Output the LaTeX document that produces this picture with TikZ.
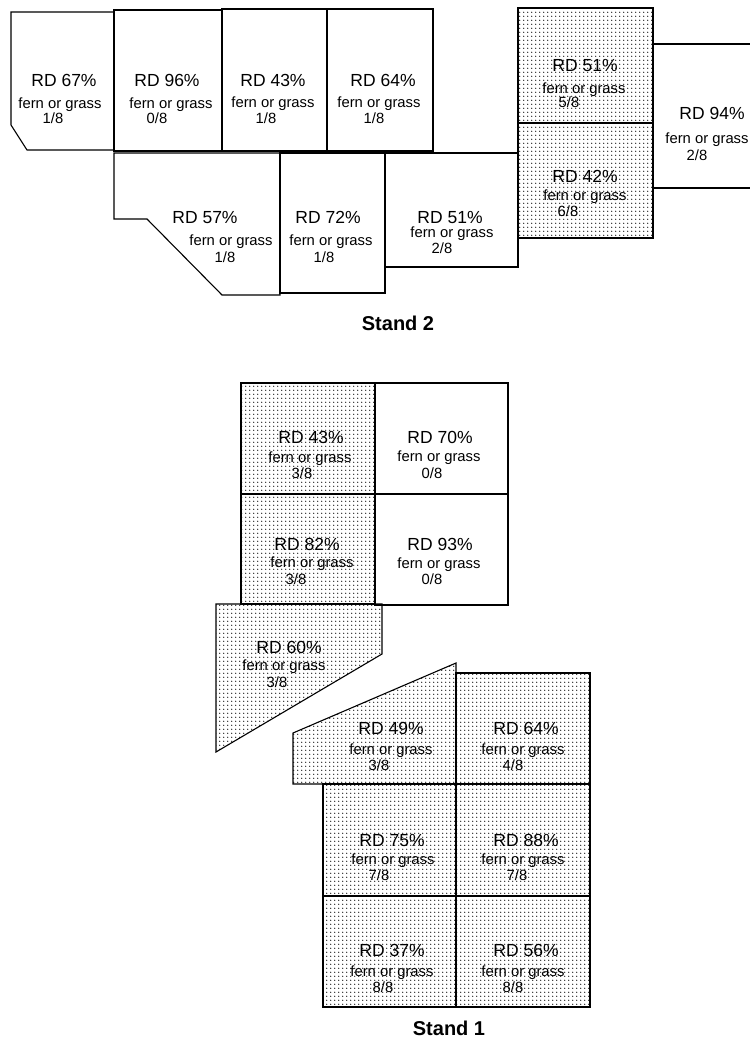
\documentclass[tikz,border=0pt]{standalone}
\usepackage{fontspec}
\setmainfont{Liberation Sans}
\usetikzlibrary{patterns.meta}
\tikzdeclarepattern{
  name=sdots,
  type=uncolored,
  bounding box={(0pt,0pt) and (3.7pt,3.7pt)},
  tile size={(3.7pt,3.7pt)},
  code={\fill (1.85pt,1.85pt) circle (0.7pt);}
}
\newcommand\plotlabel[6]{%
  \node[rd] (#1r) at (#2) {RD #3\%};
  \node[fg] (#1f) at (#4) {fern or grass};
  \node[fg] (#1n) at (#5) {#6};}
\begin{document}
\begin{tikzpicture}[x=1pt,y=-1pt,
  wall/.style={line width=1.1pt, line join=miter},
  dotcell/.style={wall, pattern=sdots, pattern color=black},
  rd/.style={font=\fontsize{17.5}{17.5}\selectfont, inner sep=0pt, text height=12.5pt, text depth=0pt},
  fg/.style={font=\fontsize{14.8}{14.8}\selectfont, inner sep=0pt, text height=10.5pt, text depth=0pt},
  title/.style={font=\fontsize{20}{20}\selectfont\bfseries, inner sep=0pt, text height=14.3pt, text depth=0pt}]
\useasboundingbox (0,0) rectangle (750,1043);

% ---------------- Stand 2 ----------------
\draw[wall] (11,12) -- (114,12) -- (114,150) -- (27,150) -- (11,125) -- cycle;
\draw[wall] (114,10) rectangle (222,151);
\draw[wall] (222,9) rectangle (327,151);
\draw[wall] (327,9) rectangle (433,151);
\draw[wall] (114,153) -- (280,153) -- (280,295) -- (222,295) -- (147,219) -- (114,219) -- cycle;
\draw[wall] (280,153) rectangle (385,293);
\draw[wall] (385,153) rectangle (518,267);
\draw[dotcell] (518,8) rectangle (653,123);
\draw[dotcell] (518,123) rectangle (653,238);
\draw[wall] (653,44) -- (750,44);
\draw[wall] (653,188) -- (750,188);

\plotlabel{a}{64,80}{67}{60,103}{53,118}{1/8}
\plotlabel{b}{167,80}{96}{171,103}{157,118}{0/8}
\plotlabel{c}{273,80}{43}{273,102}{266,118}{1/8}
\plotlabel{d}{383,80}{64}{379,102}{374,118}{1/8}
\plotlabel{e}{205,217}{57}{231,240}{225,257}{1/8}
\plotlabel{f}{328,217}{72}{331,240}{324,257}{1/8}
\plotlabel{g}{450,217}{51}{452,232}{442,248}{2/8}
\plotlabel{h}{585,65}{51}{584,88}{569,102}{5/8}
\plotlabel{i}{585,176}{42}{585,195}{568,211}{6/8}
\plotlabel{j}{712,113}{94}{707,138}{697,155}{2/8}

\node[title] (stand2) at (398,323) {Stand 2};

% ---------------- Stand 1 ----------------
\draw[dotcell] (241,383) rectangle (375,494);
\draw[dotcell] (241,494) rectangle (375,604);
\draw[wall] (375,383) rectangle (508,494);
\draw[wall] (375,494) rectangle (508,605);
\draw[dotcell] (216,604) -- (382,604) -- (382,654) -- (216,752) -- cycle;
\draw[dotcell] (293,733) -- (456,663) -- (456,784) -- (293,784) -- cycle;
\draw[dotcell] (456,673) rectangle (590,784);
\draw[dotcell] (323,784) rectangle (456,896);
\draw[dotcell] (456,784) rectangle (590,896);
\draw[dotcell] (323,896) rectangle (456,1007);
\draw[dotcell] (456,896) rectangle (590,1007);

\plotlabel{k}{311,437}{43}{310,457}{302,473}{3/8}
\plotlabel{l}{440,437}{70}{439,456}{432,473}{0/8}
\plotlabel{m}{307,544}{82}{312,562}{296,579}{3/8}
\plotlabel{n}{440,544}{93}{439,563}{432,579}{0/8}
\plotlabel{o}{289,647}{60}{284,665}{277,682}{3/8}
\plotlabel{p}{391,728}{49}{391,749}{379,765}{3/8}
\plotlabel{q}{526,728}{64}{523,749}{513,765}{4/8}
\plotlabel{r}{392,840}{75}{393,859}{379,875}{7/8}
\plotlabel{s}{526,840}{88}{523,859}{517,875}{7/8}
\plotlabel{t}{392,950}{37}{392,971}{383,987}{8/8}
\plotlabel{u}{526,950}{56}{523,971}{513,987}{8/8}

\node[title] (stand1) at (449,1028) {Stand 1};
\end{tikzpicture}
\end{document}
